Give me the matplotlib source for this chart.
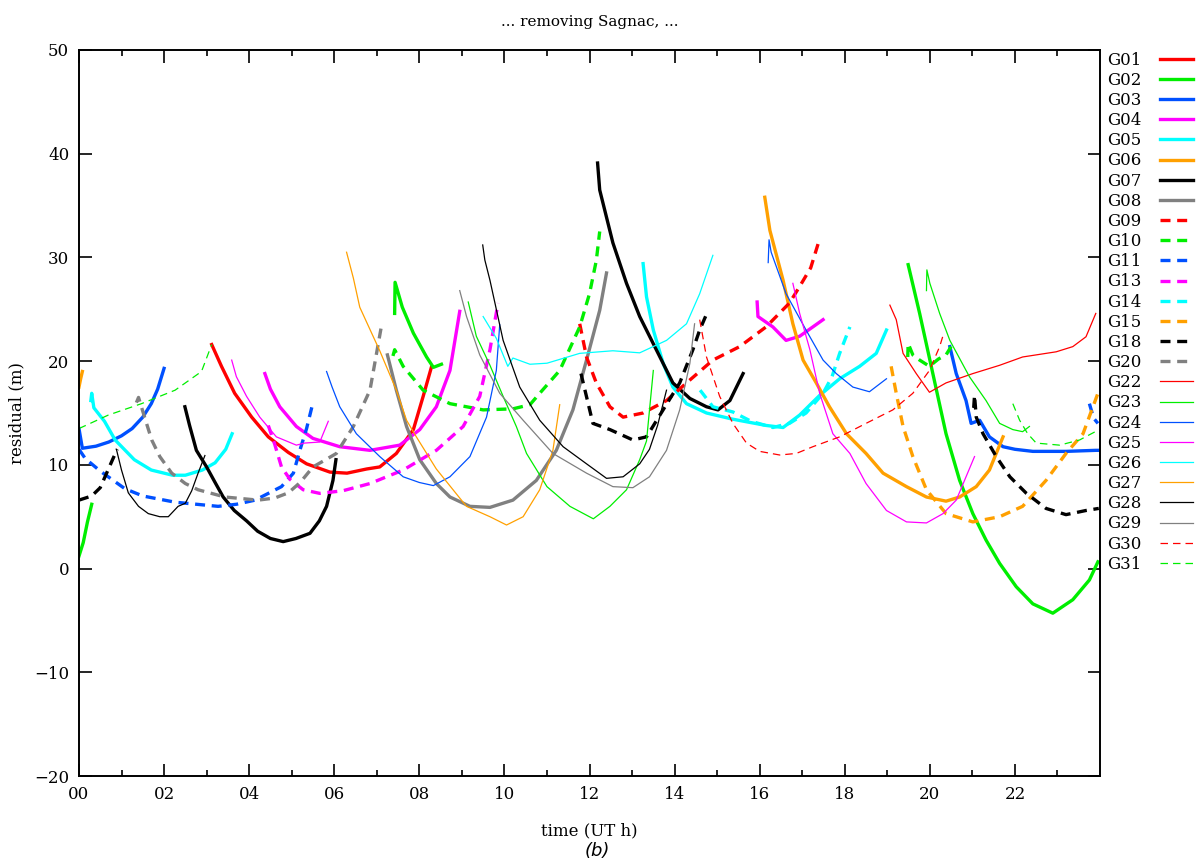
import matplotlib
matplotlib.use('Agg')
import matplotlib.pyplot as plt
import numpy as np

plt.rcParams['font.family'] = ['DejaVu Serif']

# ---- data (time in UT hours, residual in m) ----
G01_t = [3.12, 3.35, 3.66, 4.06, 4.45, 4.92, 5.35, 5.9, 6.3, 6.76, 7.07, 7.46, 7.86, 8.09, 8.29]
G01_r = [21.6, 19.5, 16.9, 14.6, 12.7, 11.2, 10.1, 9.3, 9.2, 9.6, 9.8, 11.1, 13.4, 16.6, 19.5]

G02a_t = [0.0, 0.1, 0.2, 0.3]
G02a_r = [1.2, 2.5, 4.5, 6.2]
G02b_t = [7.42, 7.43, 7.6, 7.86, 8.17, 8.33, 8.52]
G02b_r = [24.6, 27.6, 25.2, 22.7, 20.4, 19.4, 19.7]
G02c_t = [19.49, 19.76, 20.07, 20.38, 20.7, 21.01, 21.32, 21.64, 22.03, 22.42, 22.89, 23.36, 23.75, 23.95]
G02c_r = [29.3, 24.6, 18.8, 13.0, 8.5, 5.3, 2.75, 0.5, -1.75, -3.4, -4.3, -3.0, -1.1, 0.65]

G03a_t = [0.0, 0.08, 0.4, 0.7, 1.0, 1.25, 1.5, 1.7, 1.85, 2.0]
G03a_r = [13.5, 11.6, 11.8, 12.2, 12.8, 13.5, 14.6, 15.9, 17.3, 19.3]
G03b_t = [20.47, 20.62, 20.85, 20.97, 21.17, 21.4, 21.72, 22.0, 22.42, 23.2, 23.9, 24.0]
G03b_r = [21.4, 18.8, 16.2, 14.0, 14.3, 12.7, 11.75, 11.5, 11.3, 11.3, 11.4, 11.4]

G04a_t = [4.37, 4.5, 4.72, 5.11, 5.5, 6.13, 6.84, 7.54, 8.01, 8.4, 8.72, 8.95]
G04a_r = [18.8, 17.3, 15.6, 13.7, 12.55, 11.75, 11.4, 11.9, 13.4, 15.6, 19.1, 24.8]
G04b_t = [15.94, 15.96, 16.31, 16.62, 16.94, 17.25, 17.49]
G04b_r = [25.7, 24.3, 23.3, 22.0, 22.4, 23.3, 24.0]

G05a_t = [0.28, 0.3, 0.35, 0.6, 0.85, 1.3, 1.7, 2.2, 2.5, 2.9, 3.2, 3.45, 3.6]
G05a_r = [16.2, 16.9, 15.5, 14.2, 12.4, 10.5, 9.5, 9.0, 9.0, 9.5, 10.2, 11.5, 13.0]
G05b_t = [13.26, 13.34, 13.5, 13.73, 13.96, 14.28, 14.75, 15.37, 16.15, 16.55, 16.94, 17.41, 17.88, 18.35, 18.74, 18.98]
G05b_r = [29.4, 26.2, 23.0, 19.8, 17.5, 15.9, 15.0, 14.4, 13.8, 13.6, 14.8, 16.7, 18.3, 19.5, 20.75, 23.0]

G06a_t = [0.0, 0.04, 0.08]
G06a_r = [17.5, 18.3, 19.0]
G06b_t = [16.12, 16.24, 16.55, 16.78, 17.02, 17.33, 17.64, 18.04, 18.5, 18.9, 19.45, 19.92, 20.38, 20.7, 21.09, 21.4, 21.72]
G06b_r = [35.8, 32.6, 27.8, 23.6, 20.1, 17.9, 15.6, 13.0, 11.1, 9.2, 7.9, 6.9, 6.5, 6.9, 7.9, 9.5, 12.7]

G07a_t = [2.49, 2.6, 2.76, 3.0, 3.2, 3.39, 3.65, 3.94, 4.2, 4.5, 4.8, 5.1, 5.43, 5.65, 5.82, 5.97, 6.04]
G07a_r = [15.6, 13.8, 11.4, 9.8, 8.3, 6.9, 5.6, 4.6, 3.6, 2.9, 2.6, 2.9, 3.4, 4.6, 6.0, 8.5, 10.5]
G07b_t = [12.19, 12.24, 12.55, 12.87, 13.18, 13.57, 13.96, 14.36, 14.75, 15.02, 15.3, 15.61]
G07b_r = [39.1, 36.5, 31.4, 27.5, 24.3, 21.1, 17.9, 16.4, 15.6, 15.3, 16.2, 18.8]

G08_t = [7.25, 7.46, 7.7, 8.01, 8.4, 8.72, 9.19, 9.66, 10.2, 10.75, 11.22, 11.61, 11.93, 12.24, 12.4]
G08_r = [20.6, 17.2, 13.7, 10.5, 8.2, 6.9, 6.0, 5.9, 6.6, 8.5, 11.4, 15.3, 20.1, 24.9, 28.5]

G09_t = [11.77, 11.93, 12.16, 12.48, 12.79, 13.26, 13.81, 14.28, 14.9, 15.53, 16.15, 16.7, 16.94, 17.2, 17.41]
G09_r = [23.6, 20.4, 17.9, 15.6, 14.6, 15.0, 16.2, 17.9, 20.1, 21.4, 23.3, 25.6, 27.2, 29.0, 31.8]

G10a_t = [7.38, 7.42, 7.62, 8.09, 8.72, 9.5, 10.2, 10.6, 10.83, 11.3, 11.77, 12.0, 12.16, 12.24]
G10a_r = [20.5, 21.1, 19.5, 17.2, 15.9, 15.3, 15.4, 15.8, 16.9, 19.1, 23.3, 26.5, 29.7, 32.5]
G10b_t = [19.48, 19.49, 19.6, 19.76, 19.99, 20.2, 20.38, 20.5]
G10b_r = [20.4, 21.7, 20.6, 20.1, 19.5, 20.2, 20.6, 21.4]

G11a_t = [0.0, 0.15, 0.5, 1.08, 1.5, 2.26, 3.27, 3.7, 4.14, 4.76, 5.04, 5.2, 5.35, 5.5]
G11a_r = [11.5, 10.6, 9.4, 7.7, 7.0, 6.4, 6.0, 6.2, 6.6, 7.9, 9.2, 11.5, 13.5, 16.0]
G11b_t = [23.75, 23.85, 23.95]
G11b_r = [15.9, 14.5, 14.0]

G13_t = [4.45, 4.6, 4.76, 4.96, 5.27, 5.66, 6.2, 6.84, 7.62, 8.4, 9.03, 9.42, 9.66, 9.85]
G13_r = [13.8, 12.0, 9.8, 8.6, 7.6, 7.25, 7.5, 8.2, 9.5, 11.4, 13.7, 16.6, 21.1, 25.6]

G14_t = [14.6, 14.9, 15.37, 15.8, 16.31, 16.7, 17.09, 17.49, 17.7, 17.88, 18.12]
G14_r = [17.2, 15.6, 15.1, 14.2, 13.6, 14.0, 15.0, 16.9, 18.5, 20.75, 23.3]

G15_t = [19.09, 19.21, 19.37, 19.6, 19.92, 20.38, 21.01, 21.64, 22.18, 22.73, 23.2, 23.6, 23.95]
G15_r = [19.5, 16.9, 13.7, 10.8, 7.6, 5.3, 4.5, 5.0, 6.0, 8.5, 11.1, 13.0, 16.9]

G18a_t = [0.0, 0.3, 0.5, 0.65, 0.8, 0.9]
G18a_r = [6.6, 7.0, 7.8, 9.2, 10.6, 11.5]
G18b_t = [11.8, 12.08, 12.48, 13.02, 13.34, 13.73, 14.12, 14.43, 14.59, 14.79]
G18b_r = [18.8, 14.0, 13.4, 12.4, 12.7, 15.3, 17.9, 21.1, 23.0, 24.9]
G18c_t = [21.03, 21.05, 21.09, 21.25, 21.56, 21.88, 22.27, 22.73, 23.2, 23.67, 23.97]
G18c_r = [15.5, 16.7, 14.6, 13.0, 10.8, 8.85, 7.25, 5.8, 5.2, 5.6, 5.8]

G20_t = [1.35, 1.4, 1.55, 1.71, 1.9, 2.18, 2.5, 2.8, 3.43, 4.21, 4.6, 4.92, 5.2, 5.5, 5.8, 6.05, 6.45, 6.84, 7.11]
G20_r = [16.0, 16.5, 14.5, 12.4, 10.8, 9.2, 8.2, 7.6, 6.9, 6.6, 6.8, 7.3, 8.3, 9.8, 10.5, 11.1, 13.7, 17.2, 23.4]

G22_t = [19.06, 19.21, 19.37, 19.68, 19.99, 20.38, 21.01, 21.64, 22.18, 22.97, 23.36, 23.67, 23.9]
G22_r = [25.4, 24.0, 20.75, 18.8, 17.0, 17.9, 18.8, 19.6, 20.4, 20.9, 21.4, 22.35, 24.6]

G23a_t = [9.15, 9.34, 9.66, 9.97, 10.28, 10.52, 11.0, 11.54, 12.09, 12.48, 12.87, 13.18, 13.34, 13.5]
G23a_r = [25.7, 22.4, 19.6, 16.6, 13.7, 11.1, 7.9, 6.0, 4.8, 6.0, 7.6, 10.5, 12.3, 19.1]
G23b_t = [19.92, 19.93, 20.0, 20.23, 20.47, 20.93, 21.32, 21.64, 21.95, 22.18, 22.34]
G23b_r = [26.8, 28.8, 27.5, 24.6, 22.0, 18.5, 16.2, 14.0, 13.4, 13.2, 13.7]

G24a_t = [5.82, 5.95, 6.13, 6.52, 7.07, 7.62, 8.0, 8.33, 8.72, 9.19, 9.58, 9.81, 9.89]
G24a_r = [19.0, 17.5, 15.6, 13.0, 10.8, 8.85, 8.3, 8.0, 8.85, 10.8, 14.6, 19.1, 23.5]
G24b_t = [16.2, 16.22, 16.27, 16.62, 17.09, 17.49, 17.8, 18.19, 18.58, 18.98]
G24b_r = [29.5, 31.7, 30.5, 26.5, 23.0, 20.1, 18.8, 17.5, 17.05, 18.3]

G25a_t = [3.59, 3.7, 3.94, 4.25, 4.64, 5.11, 5.3, 5.66, 5.86]
G25a_r = [20.1, 18.5, 16.6, 14.6, 12.7, 11.9, 12.1, 12.2, 14.2]
G25b_t = [16.78, 16.94, 17.18, 17.41, 17.72, 18.12, 18.5, 18.98, 19.45, 19.92, 20.31, 20.62, 21.05]
G25b_r = [27.5, 24.6, 21.1, 16.9, 13.0, 11.1, 8.2, 5.6, 4.5, 4.4, 5.3, 6.6, 10.8]

G26_t = [9.5, 9.81, 10.08, 10.2, 10.6, 11.0, 11.77, 12.55, 13.18, 13.81, 14.28, 14.59, 14.9]
G26_r = [24.3, 22.2, 19.5, 20.3, 19.7, 19.8, 20.75, 21.0, 20.8, 22.0, 23.6, 26.5, 30.2]

G27_t = [6.29, 6.45, 6.6, 7.07, 7.46, 7.7, 7.93, 8.4, 8.95, 9.11, 9.66, 10.05, 10.44, 10.83, 11.14, 11.3]
G27_r = [30.5, 28.0, 25.2, 21.0, 17.2, 14.3, 12.7, 9.6, 6.8, 6.0, 5.0, 4.2, 5.0, 7.6, 11.4, 15.8]

G28a_t = [0.88, 1.0, 1.16, 1.4, 1.63, 1.9, 2.1, 2.33, 2.5, 2.65, 2.8, 2.96]
G28a_r = [11.5, 9.5, 7.3, 6.0, 5.3, 5.0, 5.0, 6.0, 6.3, 7.5, 9.2, 10.9]
G28b_t = [9.49, 9.54, 9.66, 9.97, 10.36, 10.83, 11.38, 11.93, 12.4, 12.79, 13.18, 13.41, 13.6, 13.81]
G28b_r = [31.2, 29.75, 27.8, 22.0, 17.5, 14.3, 11.75, 10.1, 8.7, 8.85, 10.1, 11.5, 13.8, 17.2]

G29_t = [8.95, 9.11, 9.42, 9.89, 10.44, 11.14, 11.93, 12.55, 13.02, 13.41, 13.81, 14.12, 14.36, 14.47]
G29_r = [26.8, 24.3, 20.6, 16.9, 14.3, 11.1, 9.2, 7.9, 7.8, 8.85, 11.4, 15.3, 19.8, 23.6]

G30_t = [14.59, 14.75, 15.06, 15.37, 15.69, 16.0, 16.47, 16.86, 17.25, 17.88, 18.5, 19.13, 19.6, 19.99, 20.23, 20.32]
G30_r = [24.0, 20.4, 16.6, 14.0, 12.1, 11.3, 10.95, 11.1, 11.75, 12.7, 14.0, 15.3, 16.9, 19.1, 21.4, 22.6]

G31a_t = [0.0, 0.69, 1.47, 2.26, 2.88, 3.12]
G31a_r = [13.5, 14.8, 15.9, 17.2, 19.0, 21.6]
G31b_t = [21.95, 22.11, 22.3, 22.5, 23.05, 23.52, 23.98]
G31b_r = [15.9, 14.3, 13.0, 12.1, 11.9, 12.4, 13.4]

labels = ['G01', 'G02', 'G03', 'G04', 'G05', 'G06', 'G07', 'G08',
          'G09', 'G10', 'G11', 'G13', 'G14', 'G15', 'G18', 'G20',
          'G22', 'G23', 'G24', 'G25', 'G26', 'G27', 'G28', 'G29', 'G30', 'G31']

passes = [
    [(G01_t, G01_r)],
    [(G02a_t, G02a_r), (G02b_t, G02b_r), (G02c_t, G02c_r)],
    [(G03a_t, G03a_r), (G03b_t, G03b_r)],
    [(G04a_t, G04a_r), (G04b_t, G04b_r)],
    [(G05a_t, G05a_r), (G05b_t, G05b_r)],
    [(G06a_t, G06a_r), (G06b_t, G06b_r)],
    [(G07a_t, G07a_r), (G07b_t, G07b_r)],
    [(G08_t, G08_r)],
    [(G09_t, G09_r)],
    [(G10a_t, G10a_r), (G10b_t, G10b_r)],
    [(G11a_t, G11a_r), (G11b_t, G11b_r)],
    [(G13_t, G13_r)],
    [(G14_t, G14_r)],
    [(G15_t, G15_r)],
    [(G18a_t, G18a_r), (G18b_t, G18b_r), (G18c_t, G18c_r)],
    [(G20_t, G20_r)],
    [(G22_t, G22_r)],
    [(G23a_t, G23a_r), (G23b_t, G23b_r)],
    [(G24a_t, G24a_r), (G24b_t, G24b_r)],
    [(G25a_t, G25a_r), (G25b_t, G25b_r)],
    [(G26_t, G26_r)],
    [(G27_t, G27_r)],
    [(G28a_t, G28a_r), (G28b_t, G28b_r)],
    [(G29_t, G29_r)],
    [(G30_t, G30_r)],
    [(G31a_t, G31a_r), (G31b_t, G31b_r)],
]

# ---- styles (gnuplot-like palette) ----
palette = ['#ff0000', '#00ee00', '#0050ff', '#ff00ff', '#00ffff', '#ffa000', '#000000', '#808080']
thick, thin = 2.4, 0.9
styles = []
for i in range(8):
    styles.append((palette[i], thick, '-'))
for i in range(8):
    styles.append((palette[i], thick, (0, (3, 2))))
for i in range(8):
    styles.append((palette[i], thin, '-'))
for i in range(2):
    styles.append((palette[i], thin, (0, (6, 4))))

fig = plt.figure(figsize=(12, 8.66), dpi=100)
ax = fig.add_axes([0.0658, 0.1039, 0.8509, 0.8384])

for lab, sat, (col, lw, ls) in zip(labels, passes, styles):
    first = True
    for t, r in sat:
        ax.plot(t, r, color=col, lw=lw, ls=ls, label=lab if first else None)
        first = False

ax.set_xlim(0, 24)
ax.set_ylim(-20, 50)
ax.set_xticks(np.arange(0, 23, 2))
ax.set_xticklabels(['%02d' % h for h in range(0, 23, 2)])
ax.set_xticks(np.arange(1, 24, 2), minor=True)
ax.set_yticks(np.arange(-20, 51, 10))
ax.set_yticklabels(['\u221220', '\u221210', '0', '10', '20', '30', '40', '50'])
ax.tick_params(which='both', direction='in', top=True, right=True, labelsize=12, width=1.2)
ax.tick_params(which='major', length=9, pad=7)
ax.tick_params(which='minor', length=4)
for s in ax.spines.values():
    s.set_linewidth(1.4)

ax.set_xlabel('time (UT h)', fontsize=12, labelpad=14)
ax.set_ylabel('residual (m)', fontsize=12, labelpad=6)
ax.set_title('... removing Sagnac, ...', fontsize=11, pad=17)

ax.legend(loc='upper left', bbox_to_anchor=(1.005, 1.0), frameon=False, markerfirst=False,
          fontsize=12, handlelength=2.0, handletextpad=1.1, labelspacing=0.19,
          borderaxespad=0.0, borderpad=0.1)

fig.text(0.498, 0.012, '(b)', fontsize=13, style='italic', family='DejaVu Sans', ha='center')

fig.savefig('out.png', dpi=100)
